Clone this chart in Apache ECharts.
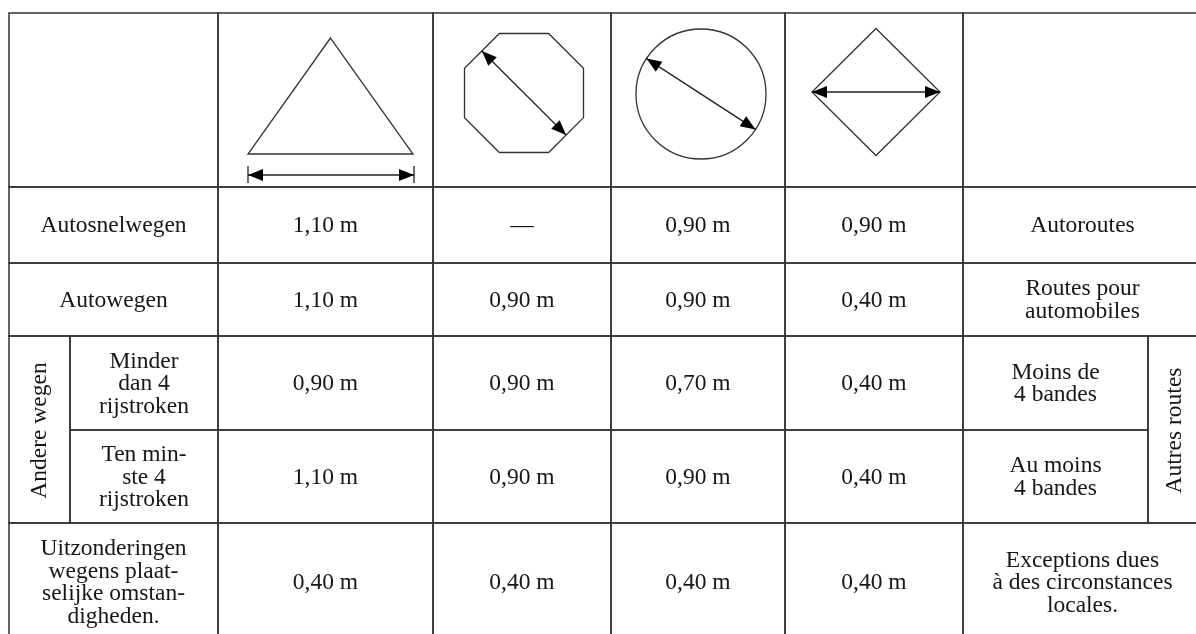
<!DOCTYPE html>
<html>
<head>
<meta charset="utf-8">
<script src="https://cdn.jsdelivr.net/npm/echarts@6/dist/echarts.min.js"></script>
<style>
  html, body { margin: 0; padding: 0; background: #fff; }
  #table { width: 1196px; height: 634px; }
</style>
</head>
<body>
<div id="table"></div>
<script>
// table contents
let nlLabels = ['Autosnelwegen', 'Autowegen', 'Minder\ndan 4\nrijstroken', 'Ten min-\nste 4\nrijstroken',
    'Uitzonderingen\nwegens plaat-\nselijke omstan-\ndigheden.'];
let frLabels = ['Autoroutes', 'Routes pour\nautomobiles', 'Moins de\n4 bandes', 'Au moins\n4 bandes',
    'Exceptions dues\nà des circonstances\nlocales.'];
let nlGroup = 'Andere wegen';
let frGroup = 'Autres routes';
let signs = ['triangle', 'octagon', 'circle', 'diamond'];
let triangleSize = ['1,10 m', '1,10 m', '0,90 m', '1,10 m', '0,40 m'];
let octagonSize  = ['—', '0,90 m', '0,90 m', '0,90 m', '0,40 m'];
let circleSize   = ['0,90 m', '0,90 m', '0,70 m', '0,90 m', '0,40 m'];
let diamondSize  = ['0,90 m', '0,40 m', '0,40 m', '0,40 m', '0,40 m'];
let sizes = [triangleSize, octagonSize, circleSize, diamondSize];

// layout (axis units = px)
let colEdge = [9, 70, 218, 433, 611, 785, 963, 1148, 1202];
let rowEdge = [13, 187, 263, 336, 430, 523, 641];
let signGeom = {
    triangle: {cx: 330.5, top: 38, base: 154, half: 82.5, dimY: 175},
    octagon:  {cx: 524, cy: 93, ap: 59.5},
    circle:   {cx: 701, cy: 94, r: 65, angle: 33},
    diamond:  {cx: 876, cy: 92, hw: 64, hh: 63.5}
};
let FONT = '23.5px "Liberation Serif", "DejaVu Serif", serif';
let LINE = '#333';
let INK = '#161616';

// build cells: c = [col edge from, to], r = [row edge from, to]
let cells = [];
cells.push({c: [0, 2], r: [0, 1], text: ''});
signs.forEach((s, k) => cells.push({c: [2 + k, 3 + k], r: [0, 1], text: '', sign: s}));
cells.push({c: [6, 8], r: [0, 1], text: ''});
for (let i = 0; i < 5; i++) {
    let grouped = (i === 2 || i === 3);
    cells.push({c: grouped ? [1, 2] : [0, 2], r: [i + 1, i + 2], text: nlLabels[i]});
    for (let k = 0; k < 4; k++) {
        cells.push({c: [2 + k, 3 + k], r: [i + 1, i + 2], text: sizes[k][i]});
    }
    cells.push({c: grouped ? [6, 7] : [6, 8], r: [i + 1, i + 2], text: frLabels[i]});
}
cells.push({c: [0, 1], r: [3, 5], text: nlGroup, rot: true});
cells.push({c: [7, 8], r: [3, 5], text: frGroup, rot: true});

let cellData = cells.map(c => [colEdge[c.c[0]], colEdge[c.c[1]], rowEdge[c.r[0]], rowEdge[c.r[1]]]);

function arrow(a, b) {
    let dx = b[0] - a[0], dy = b[1] - a[1];
    let len = Math.sqrt(dx * dx + dy * dy);
    let ux = dx / len, uy = dy / len;
    let hl = 15, hw = 6;
    function head(tip, sx) {
        let bx = tip[0] - sx * ux * hl, by = tip[1] - sx * uy * hl;
        return {type: 'polygon', shape: {points: [tip, [bx - uy * hw, by + ux * hw], [bx + uy * hw, by - ux * hw]]},
            style: {fill: '#000'}};
    }
    return [
        {type: 'line', shape: {x1: a[0], y1: a[1], x2: b[0], y2: b[1]}, style: {stroke: '#222', lineWidth: 1.3}},
        head(a, -1), head(b, 1)
    ];
}

function drawSign(name, api) {
    let g = signGeom[name];
    let shapeStyle = {fill: 'none', stroke: '#333', lineWidth: 1.3};
    let out = [];
    if (name === 'triangle') {
        let pts = [[g.cx, g.top], [g.cx - g.half, g.base], [g.cx + g.half, g.base]].map(p => api.coord(p));
        out.push({type: 'polygon', shape: {points: pts}, style: shapeStyle});
        let l = api.coord([g.cx - g.half, g.dimY]), r = api.coord([g.cx + g.half + 1, g.dimY]);
        out.push({type: 'line', shape: {x1: l[0], y1: l[1] - 9, x2: l[0], y2: l[1] + 8}, style: {stroke: '#222', lineWidth: 1.3}});
        out.push({type: 'line', shape: {x1: r[0], y1: r[1] - 9, x2: r[0], y2: r[1] + 8}, style: {stroke: '#222', lineWidth: 1.3}});
        out = out.concat(arrow(l, r));
    } else if (name === 'octagon') {
        let R = g.ap / Math.cos(Math.PI / 8);
        let pts = [];
        for (let i = 0; i < 8; i++) {
            let t = Math.PI / 8 + i * Math.PI / 4;
            pts.push(api.coord([g.cx + R * Math.cos(t), g.cy + R * Math.sin(t)]));
        }
        out.push({type: 'polygon', shape: {points: pts}, style: shapeStyle});
        let d = g.ap * Math.SQRT1_2;
        out = out.concat(arrow(api.coord([g.cx - d, g.cy - d]), api.coord([g.cx + d, g.cy + d])));
    } else if (name === 'circle') {
        let c = api.coord([g.cx, g.cy]);
        let r = api.size([g.r, g.r])[0];
        out.push({type: 'circle', shape: {cx: c[0], cy: c[1], r: r}, style: shapeStyle});
        let t = g.angle * Math.PI / 180;
        let dx = g.r * Math.cos(t), dy = g.r * Math.sin(t);
        out = out.concat(arrow(api.coord([g.cx - dx, g.cy - dy]), api.coord([g.cx + dx, g.cy + dy])));
    } else if (name === 'diamond') {
        let pts = [[g.cx, g.cy - g.hh], [g.cx + g.hw, g.cy], [g.cx, g.cy + g.hh], [g.cx - g.hw, g.cy]].map(p => api.coord(p));
        out.push({type: 'polygon', shape: {points: pts}, style: shapeStyle});
        out = out.concat(arrow(api.coord([g.cx - g.hw, g.cy]), api.coord([g.cx + g.hw, g.cy])));
    }
    return out;
}

function renderCell(params, api) {
    let cell = cells[params.dataIndex];
    let p0 = api.coord([api.value(0), api.value(2)]);
    let p1 = api.coord([api.value(1), api.value(3)]);
    let children = [{
        type: 'rect',
        shape: {x: p0[0], y: p0[1], width: p1[0] - p0[0], height: p1[1] - p0[1]},
        style: {fill: 'none', stroke: LINE, lineWidth: 1.5}
    }];
    if (cell.text) {
        children.push({
            type: 'text',
            x: (p0[0] + p1[0]) / 2,
            y: (p0[1] + p1[1]) / 2 + 1,
            rotation: cell.rot ? Math.PI / 2 : 0,
            style: {text: cell.text, font: FONT, fill: INK, align: 'center', verticalAlign: 'middle', lineHeight: 22.5}
        });
    }
    if (cell.sign) {
        children = children.concat(drawSign(cell.sign, api));
    }
    return {type: 'group', children: children};
}

let myChart = echarts.init(document.getElementById('table'));
let option = {
    animation: false,
    grid: {left: 0, right: 0, top: 0, bottom: 0},
    xAxis: {type: 'value', min: 0, max: 1196, show: false},
    yAxis: {type: 'value', min: 0, max: 634, inverse: true, show: false},
    series: [{
        type: 'custom',
        clip: false,
        encode: {x: [0, 1], y: [2, 3]},
        data: cellData,
        renderItem: renderCell
    }]
};
myChart.setOption(option);
</script>
</body>
</html>
